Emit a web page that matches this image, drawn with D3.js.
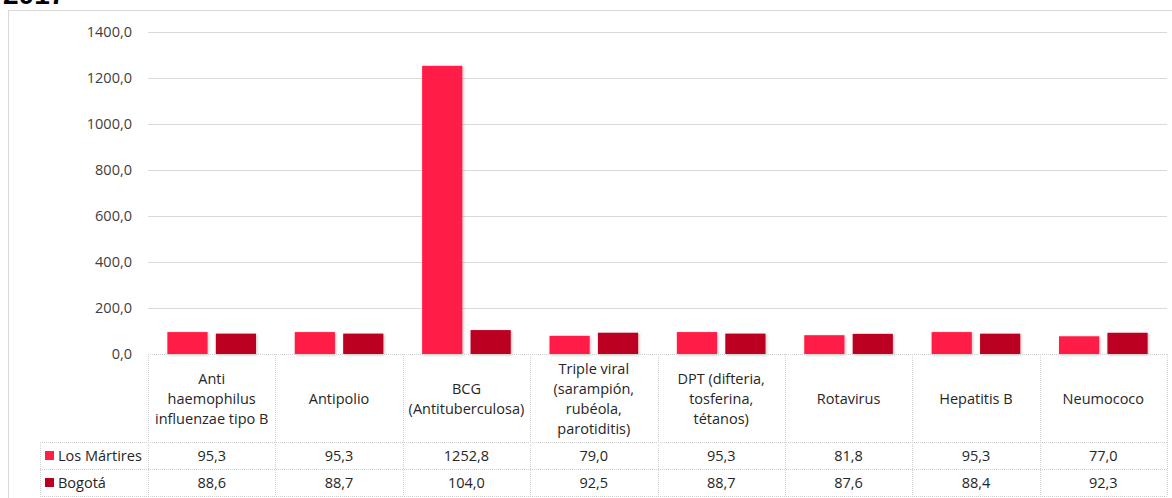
<!DOCTYPE html>
<html><head><meta charset="utf-8">
<script src="https://cdn.jsdelivr.net/npm/d3@7"></script>
<style>
html,body{margin:0;padding:0;background:#fff;}
svg{display:block;font-family:"Open Sans","Noto Sans",sans-serif;}
</style></head>
<body><svg id="c" width="1172" height="498"></svg>
<script>
const categories = [
  "Anti\nhaemophilus\ninfluenzae tipo B",
  "Antipolio",
  "BCG\n(Antituberculosa)",
  "Triple viral\n(sarampión,\nrubéola,\nparotiditis)",
  "DPT (difteria,\ntosferina,\ntétanos)",
  "Rotavirus",
  "Hepatitis B",
  "Neumococo"
];
const seriesNames = ["Los Mártires", "Bogotá"];
const losMartires = [95.3, 95.3, 1252.8, 79.0, 95.3, 81.8, 95.3, 77.0];
const bogota = [88.6, 88.7, 104.0, 92.5, 88.7, 87.6, 88.4, 92.3];
const yTicks = [0, 200, 400, 600, 800, 1000, 1200, 1400];
const colors = ["#ff1f47", "#bb0023"];

const svg = d3.select("#c");
const plotL = 148, plotR = 1167, y0 = 354, yTop = 32;
const headerBottom = 442, row1Bottom = 469, row2Bottom = 496, legendL = 40;

const defs = svg.append("defs");
const f = defs.append("filter").attr("id","sh").attr("x","-20%").attr("y","-20%").attr("width","140%").attr("height","140%");
f.append("feDropShadow").attr("dx",1).attr("dy",1).attr("stdDeviation",1.5).attr("flood-color","#000").attr("flood-opacity",0.25);

// outer frame
svg.append("rect").attr("x",8.5).attr("y",10.5).attr("width",1200).attr("height",600)
  .attr("fill","none").attr("stroke","#d9d9d9");

// title (partly cut, as in the reference)
svg.append("text").attr("x",3).attr("y",4).attr("font-family","Liberation Sans, Arial, sans-serif")
  .attr("font-weight","bold").attr("font-size",28).attr("fill","#000").text("2017");

const x = d3.scaleBand().domain(d3.range(categories.length)).range([plotL, plotR]);
const x1 = d3.scaleBand().domain([0,1]).range([0, x.bandwidth()]).paddingInner(0.17).paddingOuter(0.4);
const y = d3.scaleLinear().domain([0, 1400]).range([y0, yTop]);

// gridlines
svg.append("g").selectAll("line").data(yTicks.filter(d=>d>0)).join("line")
  .attr("x1",plotL).attr("x2",plotR).attr("y1",d=>Math.round(y(d))+0.5).attr("y2",d=>Math.round(y(d))+0.5)
  .attr("stroke","#d9d9d9").attr("stroke-width",1);

// y axis labels
const yAxis = d3.axisLeft(y).tickValues(yTicks).tickSize(0).tickPadding(0)
  .tickFormat(d => d3.format(".1f")(d).replace(".", ","));
const ya = svg.append("g").attr("transform",`translate(132,0)`).call(yAxis);
ya.select(".domain").remove();
ya.selectAll("text").attr("font-size",14.5).attr("fill","#404040").attr("font-family","Open Sans, sans-serif");

// bars
const series = [losMartires, bogota];
series.forEach((vals, si) => {
  svg.append("g").selectAll("rect").data(vals).join("rect")
    .attr("x",(d,i)=>x(i)+x1(si)).attr("width",x1.bandwidth())
    .attr("y",d=>y(d)).attr("height",d=>y0-y(d))
    .attr("fill",colors[si]).attr("filter","url(#sh)");
});

// table
const tg = svg.append("g").attr("stroke","#d0d0d0").attr("stroke-width",1).attr("stroke-dasharray","1,1");
tg.append("line").attr("x1",plotL).attr("x2",plotR).attr("y1",y0+0.5).attr("y2",y0+0.5);
[headerBottom,row1Bottom,row2Bottom].forEach(yy=>{
  tg.append("line").attr("x1",legendL).attr("x2",plotR).attr("y1",yy+0.5).attr("y2",yy+0.5);
});
d3.range(categories.length+1).forEach(i=>{
  const xx = Math.round(i<categories.length ? x(i) : plotR)+0.5;
  tg.append("line").attr("x1",xx).attr("x2",xx).attr("y1",y0).attr("y2",row2Bottom);
});
tg.append("line").attr("x1",legendL+0.5).attr("x2",legendL+0.5).attr("y1",headerBottom).attr("y2",row2Bottom);

const fs = 14.5;
// category labels
categories.forEach((c,i)=>{
  const lines = c.split("\n");
  const lh = 20;
  const cy = (y0+headerBottom)/2 + 1;
  const t = svg.append("text").attr("text-anchor","middle").attr("font-size",fs).attr("fill","#262626");
  lines.forEach((ln,k)=>{
    t.append("tspan").attr("x",x(i)+x.bandwidth()/2)
      .attr("y",cy + (k-(lines.length-1)/2)*lh).attr("dy","0.35em").text(ln);
  });
});

// values rows
const fmt = d => d3.format(".1f")(d).replace(".", ",");
const rowCenters = [(headerBottom+row1Bottom)/2, (row1Bottom+row2Bottom)/2];
series.forEach((vals, si)=>{
  svg.append("g").selectAll("text").data(vals).join("text")
    .attr("x",(d,i)=>x(i)+x.bandwidth()/2).attr("y",rowCenters[si]).attr("dy","0.35em")
    .attr("text-anchor","middle").attr("font-size",fs).attr("fill","#262626").text(fmt);
  svg.append("rect").attr("x",45).attr("y",rowCenters[si]-4.5).attr("width",9).attr("height",9).attr("fill",colors[si]);
  svg.append("text").attr("x",58).attr("y",rowCenters[si]).attr("dy","0.35em")
    .attr("font-size",fs).attr("fill","#262626").text(seriesNames[si]);
});
</script></body></html>
